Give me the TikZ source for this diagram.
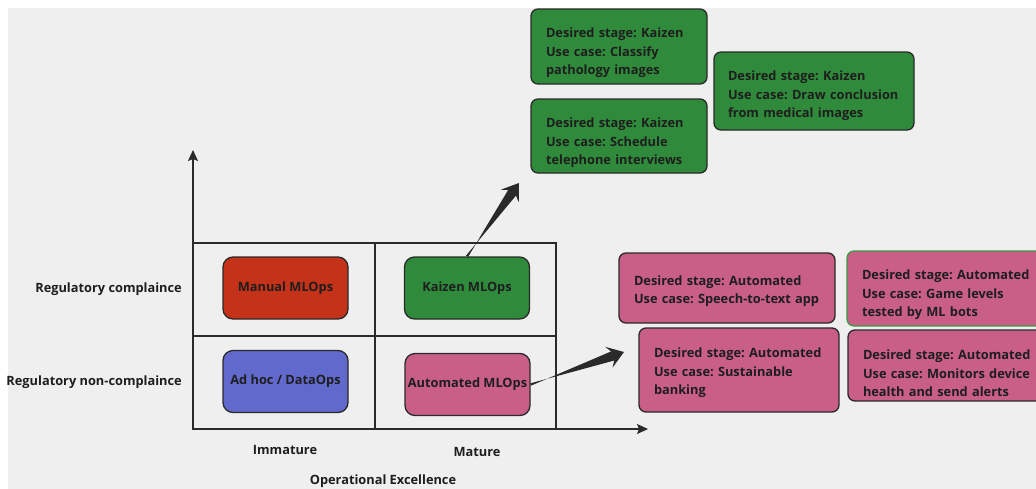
\documentclass[tikz,border=0pt]{standalone}
\usepackage{fontspec}
\setmainfont{Open Sans}
\usetikzlibrary{calc,arrows.meta}
\definecolor{canvas}{HTML}{EFEFEF}
\definecolor{ink}{HTML}{1E1E1E}
\definecolor{edge}{HTML}{2A2A2A}
\definecolor{kaizen}{HTML}{2F8B3B}
\definecolor{manual}{HTML}{C4321A}
\definecolor{adhoc}{HTML}{6169CD}
\definecolor{autom}{HTML}{C95F86}
\definecolor{greenrim}{HTML}{3A9A45}
\newcommand{\boxfont}{\fontsize{12.8}{18.5}\selectfont\bfseries\frenchspacing}
\tikzset{
  quad/.style={draw=edge, line width=1.3pt, rounded corners=10pt,
    minimum width=125pt, minimum height=62pt, inner sep=0pt,
    text=ink, font=\boxfont},
  card/.style={draw=edge, line width=1.3pt, rounded corners=7pt,
    fill=#1, inner xsep=15pt, inner ysep=0pt, align=left,
    text=ink, font=\boxfont},
  drop/.style={text height=#1},
  axislabel/.style={text=ink, font=\boxfont, inner sep=0pt},
  gridline/.style={draw=edge, line width=1.3pt},
  axis/.style={draw=edge, line width=1.3pt,
    -{Stealth[length=11pt, width=10pt, inset=2pt]}}
}
% tapered wedge arrow from #1 to #2
\newcommand{\wedgearrow}[2]{%
  \fill[edge]
    ($(#1)!1.2pt!90:(#2)$)
    -- ($($(#2)!12pt!(#1)$)!4.8pt!-90:(#2)$)
    -- ($($(#2)!16pt!(#1)$)!11pt!-90:(#2)$)
    -- (#2)
    -- ($($(#2)!16pt!(#1)$)!11pt!90:(#2)$)
    -- ($($(#2)!12pt!(#1)$)!4.8pt!90:(#2)$)
    -- ($(#1)!1.2pt!-90:(#2)$)
    -- cycle;}
\begin{document}
\begin{tikzpicture}[x=1pt, y=-1pt]
  \useasboundingbox (0,0) rectangle (1036,488);
  \clip (0,0) rectangle (1036,488);
  \fill[white] (0,0) rectangle (1036,488);
  \fill[canvas] (8,8) rectangle (1040,492);

  % quadrant grid
  \coordinate (origin) at (193,429);
  \coordinate (ytip) at (193,150);
  \coordinate (xtip) at (648,429);
  \draw[gridline] (193,243) rectangle (556,429);
  \draw[gridline] (375,243) -- (375,429);
  \draw[gridline] (193,336) -- (556,336);
  \draw[axis] (origin) -- (ytip);
  \draw[axis] (556,429) -- (xtip);

  % maturity stages
  \node[quad, fill=manual] (manual) at (285.5,288) {Manual MLOps};
  \node[quad, fill=kaizen] (kaizenq) at (467,288) {Kaizen MLOps};
  \node[quad, fill=adhoc] (adhoc) at (285.5,381.5) {Ad hoc / DataOps};
  \node[quad, fill=autom] (autoq) at (467.5,384.5) {Automated MLOps};

  % axis labels
  \node[axislabel, anchor=east] (rc) at (182,289) {Regulatory complaince};
  \node[axislabel, anchor=east] (rnc) at (182,382) {Regulatory non-complaince};
  \node[axislabel] (imm) at (285,450) {Immature};
  \node[axislabel] (mat) at (477,452) {Mature};
  \node[axislabel] (opex) at (383,481) {Operational Excellence};

  % Kaizen use cases
  \node[card=kaizen, drop=22.7pt, text width=146pt, minimum height=75pt] (k1) at (619,46.5)
    {Desired stage: Kaizen\\Use case: Classify\\pathology images};
  \node[card=kaizen, drop=23.7pt, text width=146pt, minimum height=74pt] (k2) at (619,136)
    {Desired stage: Kaizen\\Use case: Schedule\\telephone interviews};
  \node[card=kaizen, drop=19.7pt, text width=172pt, inner xsep=14pt, minimum height=78pt] (k3) at (814,91)
    {Desired stage: Kaizen\\Use case: Draw conclusion\\from medical images};

  % Automated use cases
  \node[card=autom, drop=15.7pt, text width=186pt, minimum height=70pt] (a1) at (727,288)
    {Desired stage: Automated\\Use case: Speech-to-text app};
  \node[card=autom, drop=22.7pt, draw=greenrim, text width=173pt, minimum height=75pt] (a2) at (948.5,288.5)
    {Desired stage: Automated\\Use case: Game levels\\tested by ML bots};
  \node[card=autom, drop=15.7pt, text width=170pt, minimum height=84pt] (a3) at (739,370)
    {Desired stage: Automated\\Use case: Sustainable\\banking};
  \node[card=autom, drop=25.7pt, text width=173pt, minimum height=71pt] (a4) at (949.5,365.5)
    {Desired stage: Automated\\Use case: Monitors device\\health and send alerts};

  % transitions
  \coordinate (ktip) at (519,183);
  \coordinate (atip) at (624,352);
  \wedgearrow{kaizenq.north}{ktip}
  \wedgearrow{autoq.east}{atip}
\end{tikzpicture}
\end{document}
